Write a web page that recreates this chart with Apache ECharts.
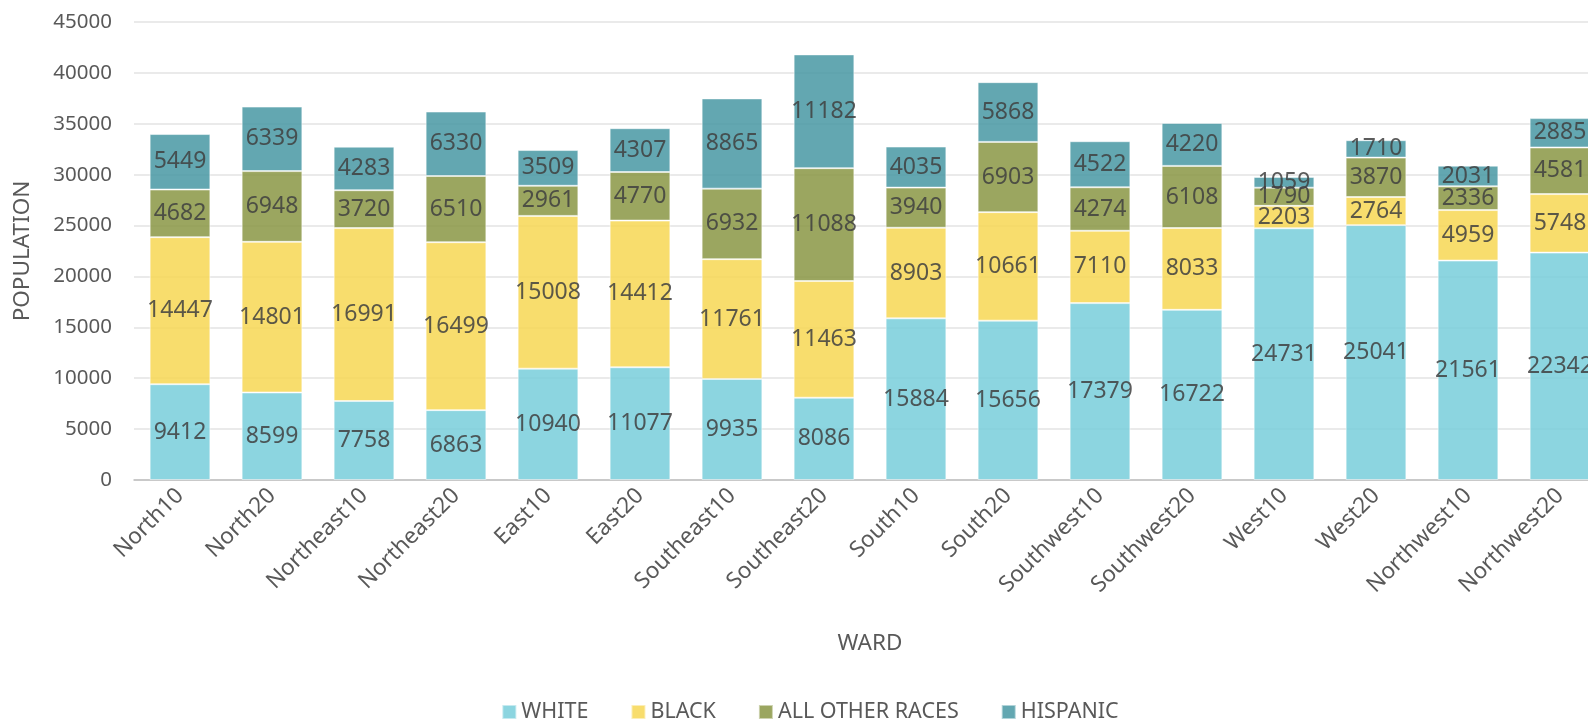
<!DOCTYPE html>
<html>
<head>
<meta charset="utf-8">
<script src="https://cdn.jsdelivr.net/npm/echarts@6/dist/echarts.min.js"></script>
<style>
html,body{margin:0;padding:0;overflow:hidden;background:#fff;width:1588px;height:721px;}
#chart{width:1620px;height:721px;}
</style>
</head>
<body>
<div id="chart"></div>
<script>
const categories = ["North10","North20","Northeast10","Northeast20","East10","East20","Southeast10","Southeast20","South10","South20","Southwest10","Southwest20","West10","West20","Northwest10","Northwest20"];
const white    = [9412, 8599, 7758, 6863, 10940, 11077, 9935, 8086, 15884, 15656, 17379, 16722, 24731, 25041, 21561, 22342];
const black    = [14447, 14801, 16991, 16499, 15008, 14412, 11761, 11463, 8903, 10661, 7110, 8033, 2203, 2764, 4959, 5748];
const other    = [4682, 6948, 3720, 6510, 2961, 4770, 6932, 11088, 3940, 6903, 4274, 6108, 1790, 3870, 2336, 4581];
const hispanic = [5449, 6339, 4283, 6330, 3509, 4307, 8865, 11182, 4035, 5868, 4522, 4220, 1059, 1710, 2031, 2885];
const seriesNames = ["WHITE", "BLACK", "ALL OTHER RACES", "HISPANIC"];
const yTicks = { min: 0, max: 45000, interval: 5000 };

const FONT = "Noto Sans";
const colors = ["#78CEDA", "#F7D754", "#899644", "#4898A3"];
const dataSets = [white, black, other, hispanic];

const chart = echarts.init(document.getElementById('chart'), null, {renderer: 'canvas'});
chart.setOption({
  animation: false,
  backgroundColor: '#ffffff',
  textStyle: { fontFamily: FONT },
  grid: { left: 134, right: 14, top: 22, bottom: 241, containLabel: false },
  legend: {
    bottom: -7,
    left: 'center',
    itemWidth: 14,
    itemHeight: 14,
    itemGap: 42,
    icon: 'rect',
    textStyle: { fontFamily: FONT, fontSize: 21.5, color: '#595959' },
    data: seriesNames
  },
  xAxis: {
    type: 'category',
    data: categories,
    name: 'WARD',
    nameLocation: 'middle',
    nameGap: 152,
    nameTextStyle: { fontFamily: FONT, fontSize: 22.5, color: '#595959' },
    axisLine: { lineStyle: { color: '#BFBFBF', width: 1.5 } },
    axisTick: { show: false },
    axisLabel: { rotate: 45, fontFamily: FONT, fontSize: 22.5, color: '#595959', margin: 12 }
  },
  yAxis: {
    type: 'value',
    min: yTicks.min, max: yTicks.max, interval: yTicks.interval,
    name: 'POPULATION',
    nameLocation: 'middle',
    nameGap: 100,
    nameTextStyle: { fontFamily: FONT, fontSize: 22.5, color: '#595959' },
    axisLine: { show: false },
    axisTick: { show: false },
    axisLabel: { fontFamily: FONT, fontSize: 20.5, color: '#595959', margin: 22, formatter: v => String(v) },
    splitLine: { lineStyle: { color: '#E3E3E3', width: 1.5 } }
  },
  series: seriesNames.map((n, i) => ({
    name: n,
    type: 'bar',
    stack: 'total',
    barCategoryGap: '34%',
    data: dataSets[i],
    itemStyle: { color: colors[i], opacity: 0.85, borderColor: 'rgba(255,255,255,0.6)', borderWidth: 1 },
    label: { show: true, position: 'inside', fontFamily: FONT, fontSize: 23, color: '#404040' }
  }))
});
</script>
</body>
</html>
